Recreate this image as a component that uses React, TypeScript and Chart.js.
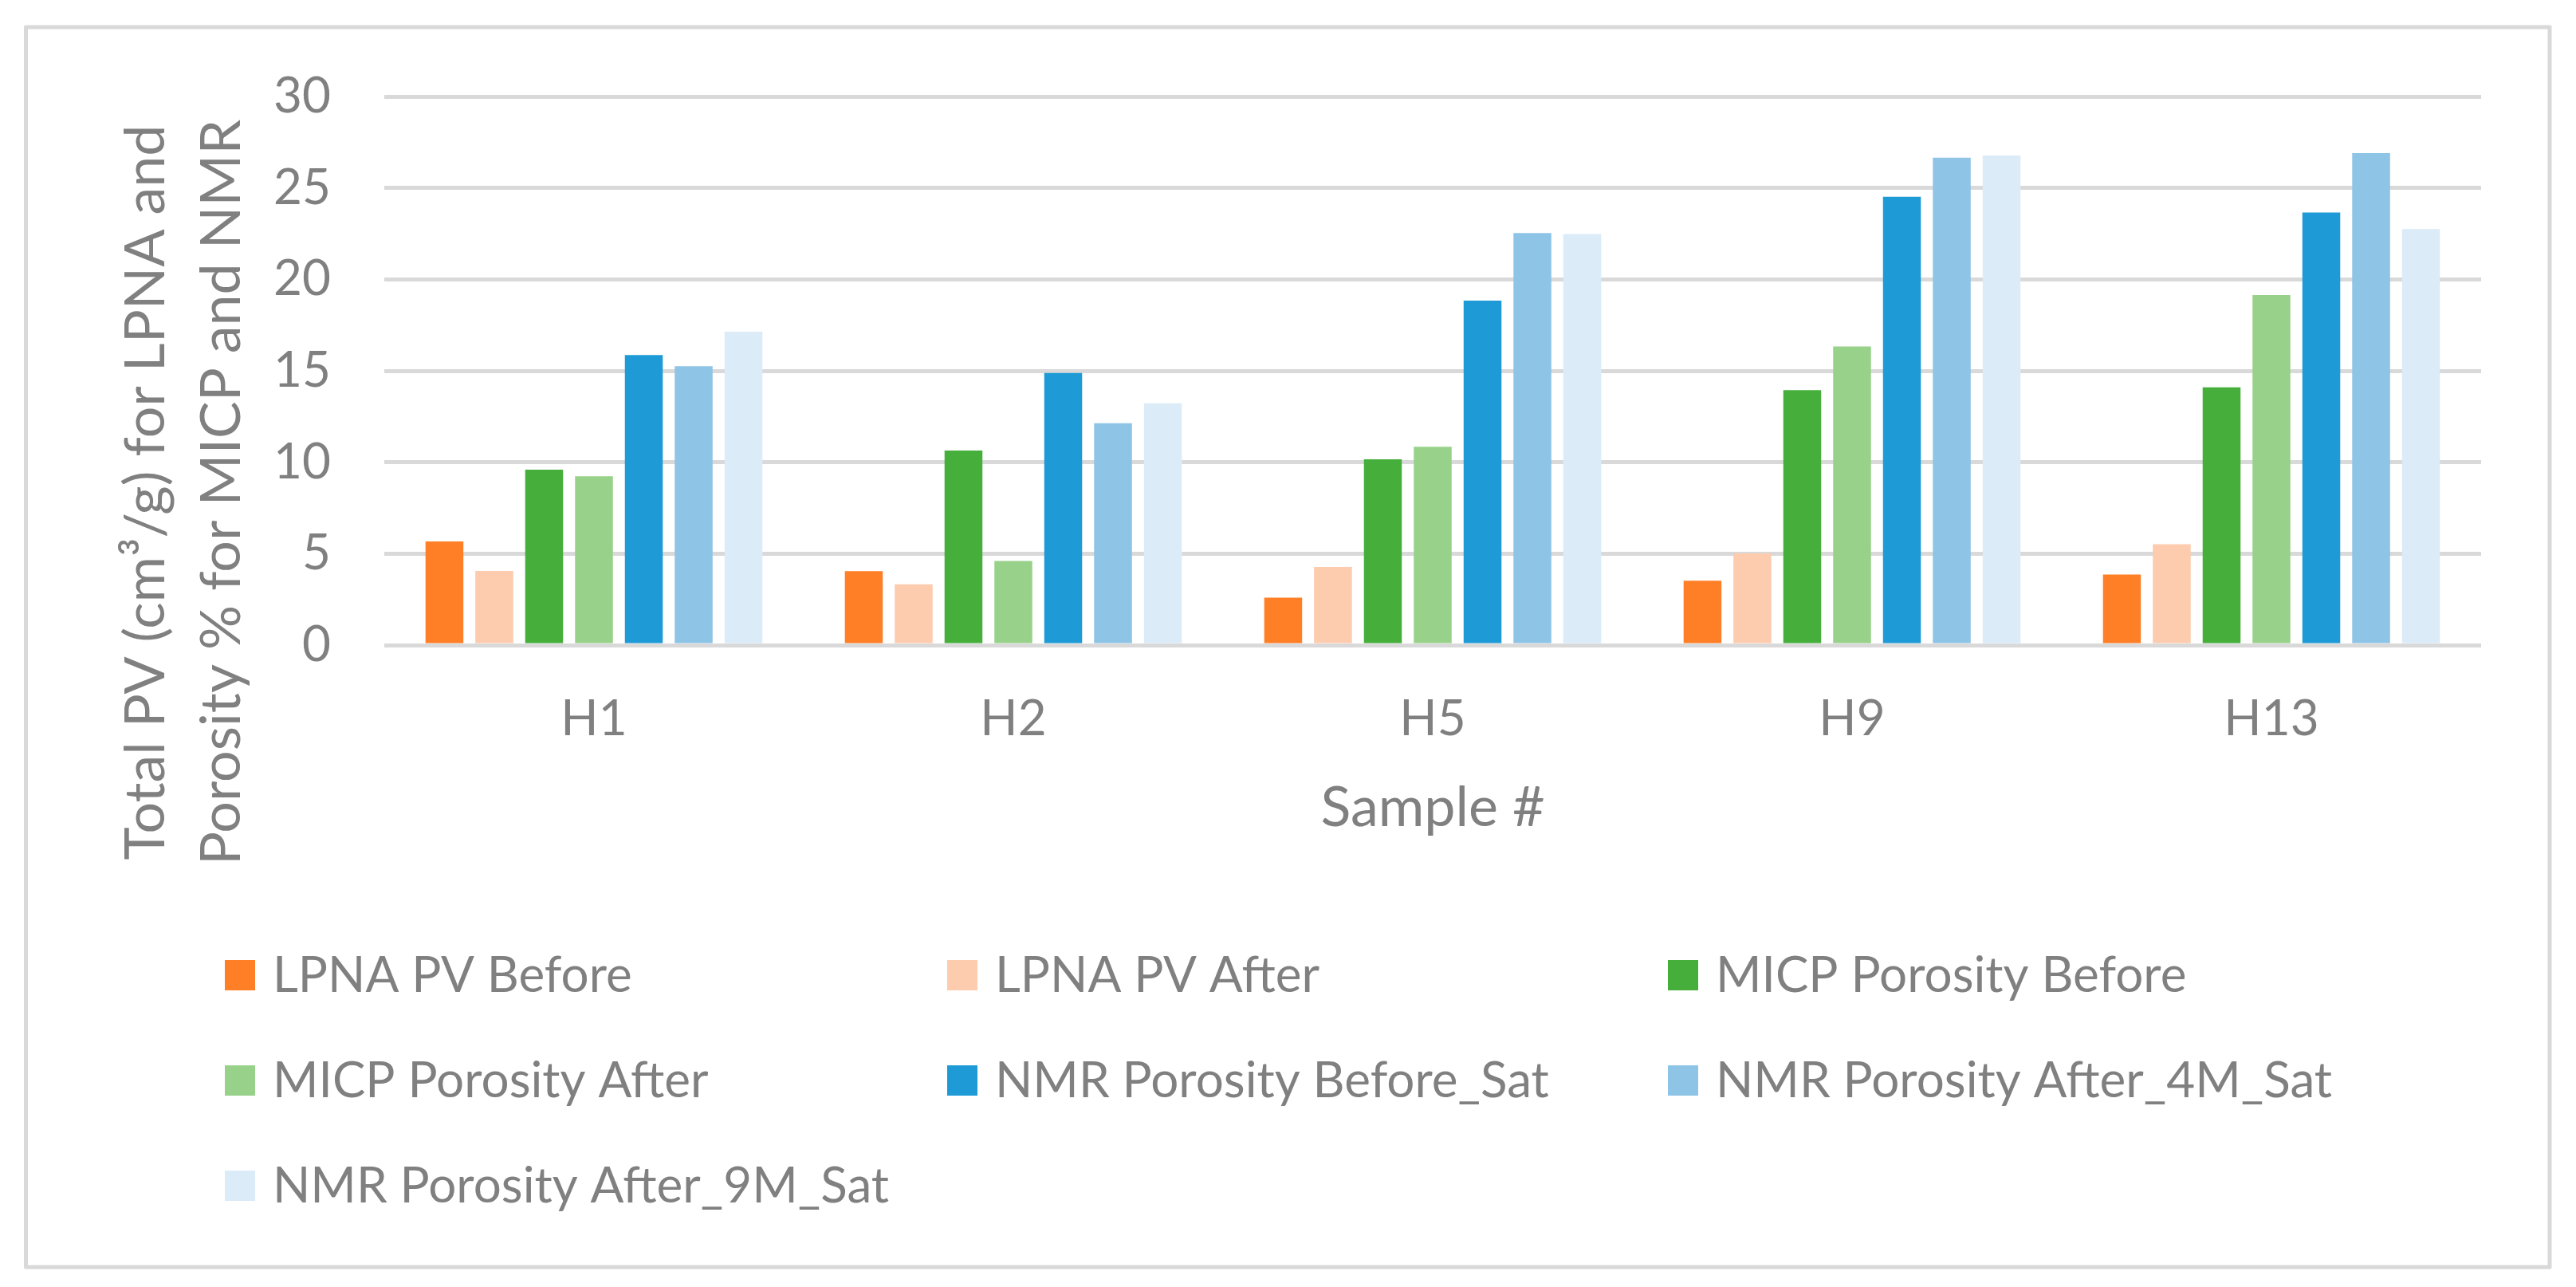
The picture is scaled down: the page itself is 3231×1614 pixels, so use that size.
import React, { useEffect, useRef } from "react";
import { Chart, registerables } from "chart.js";

Chart.register(...registerables);

const categories = ["H1", "H2", "H5", "H9", "H13"];

const seriesLabels = [
  "LPNA PV Before",
  "LPNA PV After",
  "MICP Porosity Before",
  "MICP Porosity After",
  "NMR Porosity Before_Sat",
  "NMR Porosity After_4M_Sat",
  "NMR Porosity After_9M_Sat",
];

const lpnaBefore = [5.67, 4.04, 2.59, 3.52, 3.86];
const lpnaAfter = [4.06, 3.32, 4.27, 5.01, 5.52];
const micpBefore = [9.59, 10.64, 10.16, 13.94, 14.09];
const micpAfter = [9.23, 4.6, 10.85, 16.33, 19.14];
const nmrBefore = [15.86, 14.88, 18.84, 24.52, 23.66];
const nmrAfter4M = [15.25, 12.13, 22.53, 26.65, 26.9];
const nmrAfter9M = [17.14, 13.22, 22.48, 26.77, 22.75];

const seriesColors = [
  "#FF7F27",
  "#FDCBAD",
  "#46AF3C",
  "#98D28A",
  "#1E9BD7",
  "#8EC4E6",
  "#DBEBF7",
];

const yTitleLines = ["Total PV (cm\u00B3/g) for LPNA and", "Porosity % for MICP and NMR"];
const xTitle = "Sample #";

const FONT = "Lato";
const TEXT = "#808080";
const GRID = "#D9D9D9";

const frameAndTitlePlugin = {
  id: "frameAndTitle",
  beforeDraw(chart: any) {
    const ctx = chart.ctx;
    ctx.save();
    ctx.fillStyle = "#FFFFFF";
    ctx.fillRect(0, 0, chart.width, chart.height);
    ctx.restore();
  },
  afterDraw(chart: any) {
    const ctx = chart.ctx;
    ctx.save();
    // outer frame
    ctx.strokeStyle = GRID;
    ctx.lineWidth = 5;
    ctx.lineJoin = "round";
    ctx.strokeRect(32.5, 34, 3165.5, 1555);

    // y-axis title (two lines, rotated)
    ctx.fillStyle = TEXT;
    ctx.font = `70px ${FONT}`;
    const w = Math.max(...yTitleLines.map((l) => ctx.measureText(l).width));
    const cy = 150 + w / 2;
    const baseX = [206, 301];
    yTitleLines.forEach((line, i) => {
      ctx.save();
      ctx.translate(baseX[i], cy);
      ctx.rotate(-Math.PI / 2);
      ctx.textAlign = "center";
      ctx.textBaseline = "alphabetic";
      ctx.fillText(line, 0, 0);
      ctx.restore();
    });

    // legend in a 3-column grid
    const colX = [282, 1188, 2092];
    const rowY = [1223, 1355, 1487];
    const box = 38;
    ctx.font = `62px ${FONT}`;
    ctx.textAlign = "left";
    ctx.textBaseline = "middle";
    chart.data.datasets.forEach((ds: any, i: number) => {
      const x = colX[i % 3];
      const y = rowY[Math.floor(i / 3)];
      ctx.fillStyle = ds.backgroundColor;
      ctx.fillRect(x, y - box / 2, box, box);
      ctx.fillStyle = TEXT;
      ctx.fillText(ds.label, x + 60, y + 1);
    });
    ctx.restore();
  },
};

export default function App() {
  const ref = useRef<HTMLCanvasElement | null>(null);

  useEffect(() => {
    if (!ref.current) return;
    const values = [lpnaBefore, lpnaAfter, micpBefore, micpAfter, nmrBefore, nmrAfter4M, nmrAfter9M];
    const chart = new Chart(ref.current, {
      type: "bar",
      data: {
        labels: categories,
        datasets: values.map((v, i) => ({
          label: seriesLabels[i],
          data: v,
          backgroundColor: seriesColors[i],
          borderWidth: 0,
          categoryPercentage: 0.832,
          barPercentage: 0.76,
        })),
      },
      options: {
        animation: false,
        responsive: true,
        maintainAspectRatio: false,
        devicePixelRatio: 1,
        layout: { padding: { top: 121, right: 119, left: 0, bottom: 0 } },
        plugins: {
          legend: { display: false },
          tooltip: { enabled: false },
          title: { display: false },
        },
        scales: {
          x: {
            grid: { display: false, drawTicks: false },
            border: { display: false },
            ticks: {
              color: TEXT,
              font: { family: FONT, size: 62 },
              padding: 56,
              maxRotation: 0,
            },
            title: {
              display: true,
              text: xTitle,
              color: TEXT,
              font: { family: FONT, size: 70 },
              padding: { top: 0, bottom: 559 },
            },
            afterFit: (scale: any) => {
              scale.height = 805;
            },
          },
          y: {
            min: 0,
            max: 30,
            grid: { color: GRID, lineWidth: 5, drawTicks: false },
            border: { display: false },
            ticks: {
              stepSize: 5,
              color: TEXT,
              font: { family: FONT, size: 62 },
              padding: 67,
            },
            afterFit: (scale: any) => {
              scale.width = 482;
            },
          },
        },
      },
      plugins: [frameAndTitlePlugin],
    });
    return () => chart.destroy();
  }, []);

  return (
    <div style={{ position: "fixed", left: 0, top: 0, width: "3231px", height: "1614px", background: "#fff" }}>
      <canvas ref={ref} />
    </div>
  );
}
